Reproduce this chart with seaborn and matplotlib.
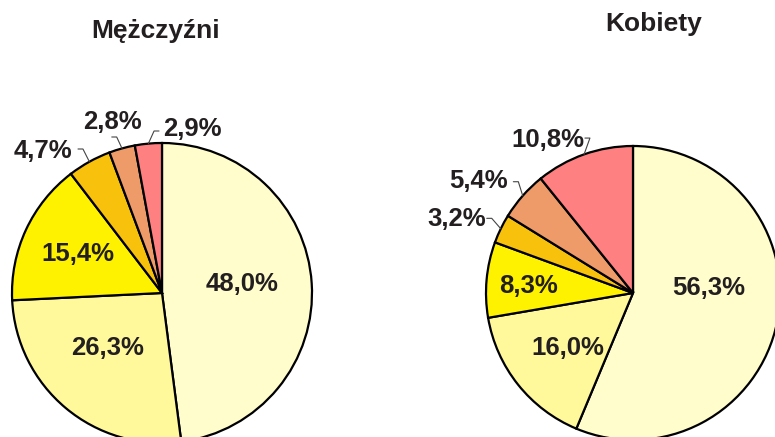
import numpy as np
import matplotlib
matplotlib.use('Agg')
import matplotlib.pyplot as plt
import seaborn as sns

# dane
kategorie = ['k1', 'k2', 'k3', 'k4', 'k5', 'k6']
mezczyzni = [48.0, 26.3, 15.4, 4.7, 2.8, 2.9]
kobiety = [56.3, 16.0, 8.3, 3.2, 5.4, 10.8]
tytuly = ['Mężczyźni', 'Kobiety']
kolory = ['#FFFDCB', '#FFF99C', '#FFF200', '#F8C20C', '#EE9B69', '#FF8080']

# pozycje etykiet (w promieniach kola)
pos_m = [(0.533, 0.057), (-0.363, -0.367), (-0.563, 0.260), (-0.793, 0.947), (-0.333, 1.14), (0.204, 1.093)]
pos_k = [(0.517, 0.031), (-0.446, -0.374), (-0.712, 0.048), (-1.199, 0.503), (-1.048, 0.762), (-0.582, 1.041)]
# linie odniesienia: (x start, x kolano, y) dla malych wycinkow
lin_m = {3: (-0.56, -0.527, 0.96), 4: (-0.335, -0.302, 1.04), 5: (-0.02, -0.053, 1.08)}
lin_k = {3: (-0.995, -0.961, 0.508), 4: (-0.814, -0.78, 0.757), 5: (-0.327, -0.293, 1.054)}

sns.set_theme(style='white')
plt.rcParams['font.family'] = ['Liberation Sans', 'DejaVu Sans']
tekst = '#231F20'

fig = plt.figure(figsize=(7.75, 4.37), dpi=100)
fig.patch.set_facecolor('white')

axes_box = [[12 / 775, -6 / 437, 300 / 775, 300 / 437],
            [486 / 775, -3 / 437, 294 / 775, 294 / 437]]
dane = [mezczyzni, kobiety]
pozycje = [pos_m, pos_k]
linie = [lin_m, lin_k]
palette = sns.color_palette(kolory)

for i in range(2):
    ax = fig.add_axes(axes_box[i])
    wedges, _ = ax.pie(dane[i], colors=palette, startangle=90, counterclock=False,
                       radius=1, wedgeprops=dict(edgecolor='black', linewidth=1.6))
    for w in wedges:
        w.set_clip_on(False)
    ax.set_xlim(-1, 1)
    ax.set_ylim(-1, 1)
    ax.set_aspect('equal')
    ax.axis('off')
    for j, v in enumerate(dane[i]):
        x, y = pozycje[i][j]
        ax.text(x, y, f'{v:.1f}%'.replace('.', ','), ha='center', va='center',
                fontsize=18.5, fontweight='bold', color=tekst)
        if j in linie[i]:
            w = wedges[j]
            ang = np.deg2rad((w.theta1 + w.theta2) / 2)
            x0, x1, yl = linie[i][j]
            ax.plot([x0, x1, np.cos(ang)], [yl, yl, np.sin(ang)],
                    color='#444444', linewidth=0.8, clip_on=False)

fig.text(156 / 775, 1 - 31 / 437, tytuly[0], ha='center', va='center',
         fontsize=19, fontweight='bold', color=tekst)
fig.text(654 / 775, 1 - 24 / 437, tytuly[1], ha='center', va='center',
         fontsize=19, fontweight='bold', color=tekst)

plt.savefig('out.png', dpi=100)
